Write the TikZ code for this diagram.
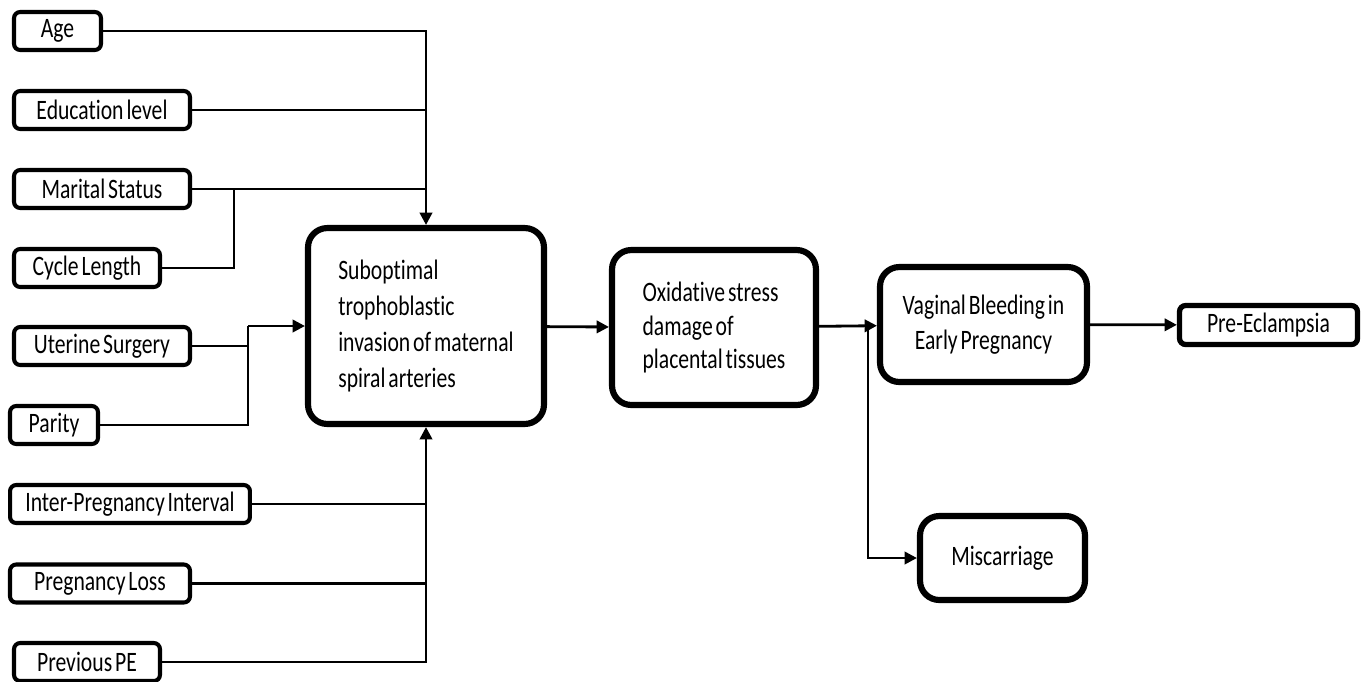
\documentclass[tikz,border=0pt]{standalone}
\usepackage{fontspec}
\setmainfont{Carlito}[FakeStretch=0.77, WordSpace=0.6, Ligatures=NoCommon]
\usetikzlibrary{arrows.meta}

\begin{document}
\begin{tikzpicture}[
    x=0.02cm, y=-0.02cm,
    every node/.style={font=\fontsize{16}{20}\selectfont, inner sep=2pt},
    factor/.style={draw, line width=2.3pt, rounded corners=3.5pt, minimum height=0.76cm},
    stage/.style={draw, line width=3.5pt, rounded corners=11pt, align=left},
    link/.style={line width=1.6pt},
    arrow/.style={link, -{Triangle[length=7pt, width=7pt]}},
    ]
    \useasboundingbox (0,0) rectangle (1366,681);

    \node[factor, minimum width=1.74cm] (age) at (57.5,31) {Age};
    \node[factor, minimum width=3.52cm] (edu) at (102,110) {Education level};
    \node[factor, minimum width=3.52cm] (marital) at (102,189) {Marital Status};
    \node[factor, minimum width=2.92cm] (cycle) at (87,268) {Cycle Length};
    \node[factor, minimum width=3.52cm] (uterine) at (102,346) {Uterine Surgery};
    \node[factor, minimum width=1.76cm] (parity) at (54,425) {Parity};
    \node[factor, minimum width=4.80cm] (interval) at (130,504) {Inter-Pregnancy Interval};
    \node[factor, minimum width=3.60cm] (loss) at (100,583.5) {Pregnancy Loss};
    \node[factor, minimum width=2.92cm] (prevpe) at (87,662) {Previous PE};

    \node[stage, minimum width=4.72cm, minimum height=3.92cm,
          font=\fontsize{16}{20.4}\selectfont] (trophob) at (426,326)
         {Suboptimal\\trophoblastic\\invasion of maternal\\spiral arteries};
    \node[stage, minimum width=4.08cm, minimum height=3.10cm,
          font=\fontsize{16}{19}\selectfont] (oxid) at (714,327.5)
         {Oxidative stress\\damage of\\placental tissues};
    \node[stage, align=center, minimum width=4.14cm, minimum height=2.30cm] (bleeding) at (983.5,324.5)
         {Vaginal Bleeding in\\Early Pregnancy};
    \node[stage, align=center, minimum width=3.30cm, minimum height=1.68cm] (miscarriage) at (1002.5,558) {Miscarriage};
    \node[factor, line width=3pt, minimum width=3.56cm, minimum height=0.78cm] (preeclampsia) at (1268.5,325) {Pre-Eclampsia};

    \coordinate (mj) at (234,189);
    \coordinate (pj) at (248,326);
    \coordinate (bj) at (868,327);

    % factors into the first stage
    \draw[arrow] (age) -| (trophob);
    \draw[link] (edu) -- (edu -| trophob);
    \draw[link] (marital) -- (marital -| trophob);
    \draw[link] (cycle) -| (mj);
    \draw[link] (uterine) -| (pj);
    \draw[link] (parity) -| (pj);
    \draw[arrow] (pj) -- (trophob);
    \draw[arrow] (prevpe) -| (trophob);
    \draw[link] (interval) -- (interval -| trophob);
    \draw[link] (loss) -- (loss -| trophob);

    % chain of stages
    \draw[arrow] (trophob) -- (oxid);
    \draw[arrow] (oxid) -- (bleeding);
    \draw[arrow] (bj) |- (miscarriage);
    \draw[arrow] (bleeding) -- (preeclampsia);

  \end{tikzpicture}
\end{document}
